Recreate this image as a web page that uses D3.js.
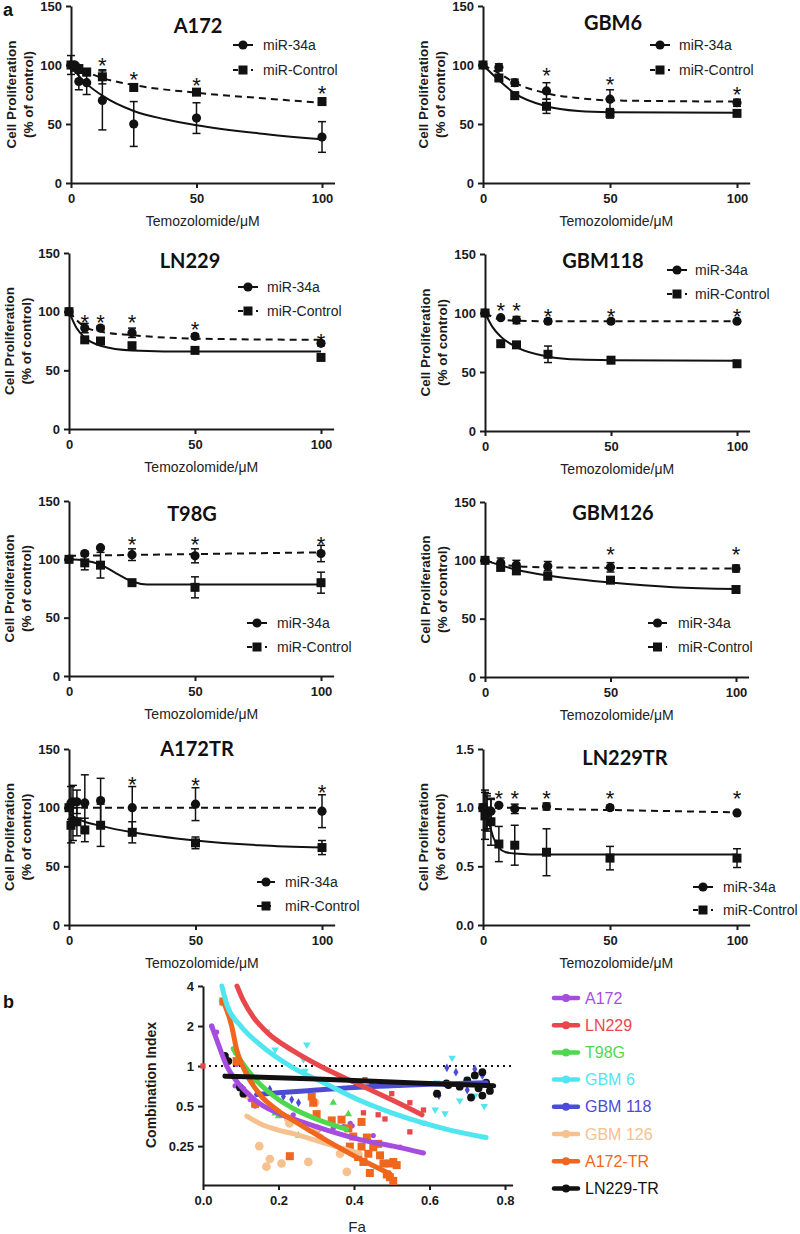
<!DOCTYPE html>
<html><head><meta charset="utf-8">
<script src="https://cdn.jsdelivr.net/npm/d3@7"></script>
<style>body{margin:0;background:#fff}</style>
</head><body>
<svg id="c" width="800" height="1234"></svg>
<script>
// ---------- Panel a data: [concentration, value, sem] ----------
const xTicks = [0, 50, 100];
const pctTicks = [0, 50, 100, 150];
const fracTicks = [0, 0.5, 1.0, 1.5];

const A172_circle = [[0,100,8],[1.56,100,0],[3.125,86,7],[6.25,85,10],[12.5,70,25],[25,50,19],[50,55,13],[100,39,13]];
const A172_square = [[0,100,0],[1.56,98,0],[3.125,97,0],[6.25,94,3],[12.5,90,6],[25,81,3],[50,77,2],[100,69,3]];
const A172_circleFit = [[0,100],[3,91],[6.25,84],[12.5,74],[25,61],[37.5,54],[50,49],[75,42],[100,37]];
const A172_squareFit = [[0,100],[6.25,94],[12.5,89],[25,83],[50,76.5],[75,72],[100,68]];
const A172_stars = [[12.5,104],[25,92],[50,87],[100,80]];

const GBM6_circle = [[0,100,0],[6.25,98,3],[12.5,85,3],[25,78,7],[50,71,8],[100,68,3]];
const GBM6_square = [[0,100,0],[6.25,89,2],[12.5,74,3],[25,65,6],[50,59,4],[100,59,2]];
const GBM6_circleFit = [[0,100],[6.25,93],[12.5,85],[25,76],[37.5,72],[50,70],[100,69]];
const GBM6_squareFit = [[0,100],[6.25,87],[12.5,76],[25,65],[37.5,61],[50,60],[100,59.5]];
const GBM6_stars = [[25,95],[50,88],[100,79]];

const LN229_circle = [[0,100,0],[6.25,86,4],[12.5,86,2],[25,82,4],[50,79,2],[100,73,2]];
const LN229_square = [[0,100,0],[6.25,76,2],[12.5,75,2],[25,71,2],[50,67,2],[100,61,2]];
const LN229_circleFit = [[0,100],[6.25,87],[12.5,83],[25,80],[50,77],[100,76]];
const LN229_squareFit = [[0,100],[3,86],[6.25,78],[12.5,71],[25,67],[50,66],[100,66]];
const LN229_stars = [[6.25,95],[12.5,95],[25,95],[50,89],[100,79]];

const GBM118_circle = [[0,100,0],[6.25,96,1],[12.5,94,3],[25,93,2],[50,93,1],[100,93,1]];
const GBM118_square = [[0,100,0],[6.25,74,2],[12.5,73,2],[25,65,7],[50,60,2],[100,57,2]];
const GBM118_circleFit = [[0,100],[6.25,94.5],[12.5,93.5],[25,93],[100,93]];
const GBM118_squareFit = [[0,100],[3,88],[6.25,80],[12.5,71],[25,63],[37.5,60.5],[50,60],[100,59.5]];
const GBM118_stars = [[6.25,106],[12.5,106],[25,101],[50,101],[100,101]];

const T98G_circle = [[0,100,0],[6.25,105,1],[12.5,110,1],[25,104,5],[50,103,6],[100,105,7]];
const T98G_square = [[0,100,0],[6.25,97,6],[12.5,95,11],[25,80,1],[50,76,9],[100,80,9]];
const T98G_circleFit = [[0,103],[50,104.5],[100,106]];
const T98G_squareFit = [[0,100],[6.25,99],[12.5,95.5],[18.75,88],[25,81],[31,78.5],[50,78.5],[100,78.5]];
const T98G_stars = [[25,117],[50,117],[100,117]];

const GBM126_circle = [[0,100,0],[6.25,98,4],[12.5,96,4],[25,95,4],[50,94,4],[100,93,3]];
const GBM126_square = [[0,100,0],[6.25,94,3],[12.5,91,3],[25,86.5,3],[50,83,2],[100,75,1]];
const GBM126_circleFit = [[0,100],[6.25,96.5],[12.5,95],[25,94],[50,93.5],[100,93]];
const GBM126_squareFit = [[0,100],[12.5,92],[25,87],[50,81],[75,77],[100,75.5]];
const GBM126_stars = [[50,109],[100,109]];

const A172TR_circle = [[0,100,0],[0.78,104,14],[1.56,105,14],[3.125,105,10],[6.25,104,24],[12.5,106,19],[25,100,18],[50,103,14],[100,97,14]];
const A172TR_square = [[0,100,0],[0.78,85,15],[1.56,88,16],[3.125,88,12],[6.25,81,10],[12.5,85,18],[25,79,9],[50,70,5],[100,66,6]];
const A172TR_circleFit = [[0,100],[100,100]];
const A172TR_squareFit = [[0,95],[3,91],[6.25,88],[12.5,84.5],[25,79],[50,72],[75,68],[100,66]];
const A172TR_stars = [[25,124],[50,123],[100,117]];

const LN229TR_circle = [[0,1.0,0],[0.78,0.98,0.17],[1.56,0.95,0.15],[3.125,0.97,0.1],[6.25,1.02,0.01],[12.5,0.99,0.04],[25,1.01,0.03],[50,1.0,0.02],[100,0.955,0.01]];
const LN229TR_square = [[0,1.0,0],[0.78,0.93,0.2],[1.56,0.97,0.15],[3.125,0.88,0.2],[6.25,0.69,0.15],[12.5,0.68,0.17],[25,0.62,0.2],[50,0.57,0.1],[100,0.57,0.08]];
const LN229TR_circleFit = [[0,1.0],[6.25,1.0],[25,0.99],[50,0.98],[100,0.96]];
const LN229TR_squareFit = [[0,1.0],[2,0.9],[4,0.75],[6.25,0.66],[9,0.62],[12.5,0.61],[25,0.6],[100,0.6]];
const LN229TR_stars = [[6.25,1.12],[12.5,1.12],[25,1.12],[50,1.12],[100,1.12]];

const legendLabels = ["miR-34a", "miR-Control"];

// ---------- Panel b data: [Fa, CI] ----------
const bNames = ["A172","LN229","T98G","GBM 6","GBM 118","GBM 126","A172-TR","LN229-TR"];
const bColors = ["#a54ddf","#e8474b","#4fd84f","#4fe6ef","#4b4bd6","#f6c18f","#f0661c","#111111"];
const bYTicks = [0.25, 0.5, 1, 2, 4];
const bXTicks = [0, 0.2, 0.4, 0.6, 0.8];

const b_A172_curve = [[0.023,2.0],[0.041,1.45],[0.063,1.0],[0.089,0.77],[0.125,0.6],[0.151,0.52],[0.2,0.44],[0.239,0.4],[0.328,0.33],[0.416,0.28],[0.504,0.25],[0.584,0.222]];
const b_LN229_curve = [[0.09,4.0],[0.107,3.1],[0.135,2.3],[0.169,1.8],[0.239,1.3],[0.31,1.0],[0.416,0.72],[0.504,0.55],[0.58,0.43]];
const b_T98G_curve = [[0.08,1.35],[0.1,1.1],[0.125,0.88],[0.151,0.73],[0.2,0.56],[0.239,0.48],[0.3,0.4],[0.38,0.335]];
const b_GBM6_curve = [[0.05,4.0],[0.063,2.9],[0.1,2.0],[0.151,1.45],[0.239,0.97],[0.328,0.73],[0.416,0.55],[0.504,0.44],[0.654,0.33],[0.75,0.29]];
const b_GBM118_curve = [[0.142,0.61],[0.2,0.63],[0.3,0.66],[0.4,0.69],[0.5,0.71],[0.6,0.73],[0.75,0.75]];
const b_GBM126_curve = [[0.116,0.42],[0.15,0.37],[0.2,0.33],[0.239,0.31],[0.328,0.26],[0.416,0.22]];
const b_A172TR_curve = [[0.054,3.06],[0.076,2.0],[0.09,1.3],[0.107,0.97],[0.151,0.61],[0.2,0.46],[0.239,0.39],[0.328,0.275],[0.416,0.2],[0.495,0.155]];
const b_LN229TR_curve = [[0.058,0.84],[0.3,0.8],[0.5,0.76],[0.654,0.73],[0.77,0.71]];

const b_A172_pts = [[0.023,2.0],[0.036,1.8],[0.089,1.03],[0.085,0.71],[0.107,0.68],[0.125,0.56],[0.138,0.5],[0.239,0.43],[0.293,0.41],[0.3,0.34],[0.305,0.33],[0.345,0.34],[0.372,0.35],[0.39,0.37],[0.395,0.355],[0.451,0.3],[0.522,0.246],[0.588,0.37]];
const b_LN229_pts = [[0.0,1.0],[0.429,0.79],[0.447,0.76],[0.425,0.445],[0.464,0.43],[0.482,0.4],[0.5,0.62],[0.548,0.53],[0.548,0.32],[0.584,0.467]];
const b_T98G_pts = [[0.089,1.26],[0.132,0.78],[0.136,0.77],[0.191,0.44],[0.2,0.42],[0.253,0.3],[0.345,0.53],[0.385,0.435]];
const b_GBM6_pts = [[0.05,3.0],[0.169,1.82],[0.191,1.33],[0.275,1.45],[0.266,1.12],[0.27,0.92],[0.619,0.75],[0.615,0.47],[0.641,0.44],[0.68,0.55],[0.7,0.8],[0.72,0.6],[0.745,0.5],[0.66,1.15]];
const b_GBM118_pts = [[0.177,0.67],[0.213,0.59],[0.235,0.56],[0.253,0.53],[0.646,0.97],[0.615,0.62],[0.625,0.6],[0.67,0.9],[0.7,0.66],[0.72,0.95],[0.74,0.85]];
const b_GBM126_pts = [[0.116,0.61],[0.297,0.53],[0.226,0.4],[0.229,0.37],[0.149,0.25],[0.177,0.2],[0.168,0.175],[0.208,0.185],[0.279,0.19],[0.363,0.219],[0.381,0.16],[0.301,0.34],[0.31,0.29]];
const b_A172TR_pts = [[0.054,3.06],[0.089,1.09],[0.138,0.52],[0.288,0.59],[0.292,0.53],[0.301,0.435],[0.341,0.39],[0.367,0.395],[0.23,0.21],[0.385,0.34],[0.398,0.295],[0.42,0.38],[0.389,0.248],[0.42,0.248],[0.411,0.207],[0.425,0.19],[0.434,0.29],[0.442,0.157],[0.438,0.219],[0.451,0.245],[0.464,0.26],[0.469,0.213],[0.478,0.185],[0.495,0.185],[0.504,0.19],[0.513,0.18],[0.495,0.146],[0.504,0.137],[0.487,0.153]];
const b_LN229TR_pts = [[0.058,1.19],[0.067,1.09],[0.098,0.69],[0.107,0.62],[0.645,0.74],[0.65,0.72],[0.62,0.62],[0.68,0.7],[0.7,0.78],[0.72,0.85],[0.73,0.68],[0.74,0.9],[0.75,0.75],[0.76,0.65],[0.74,0.6],[0.71,0.58]];

// ---------- drawing ----------
const svg = d3.select('#c');
const AX = '#1b1b1b';
const SANS = '"Liberation Sans", Arial, sans-serif';

function styleAxis(a) {
  a.select('.domain').attr('stroke', AX).attr('stroke-width', 2);
  a.selectAll('.tick line').attr('stroke', AX).attr('stroke-width', 2);
  a.selectAll('.tick text').attr('fill', AX).style('font-family', SANS).style('font-weight', 'bold').style('font-size', '13px');
}

function panel(c) {
  const g = svg.append('g');
  const x = d3.scaleLinear().domain([0, 105]).range([c.ax, c.ax + (c.ax100 - c.ax) * 1.05]);
  const y = d3.scaleLinear().domain([0, c.ymax]).range([c.y0, c.ytop]);
  const xa = g.append('g').attr('transform', `translate(0,${c.y0})`)
    .call(d3.axisBottom(x).tickValues(xTicks).tickSize(5).tickSizeOuter(0).tickPadding(6));
  const ya = g.append('g').attr('transform', `translate(${c.ax},0)`)
    .call(d3.axisLeft(y).tickValues(c.yticks).tickFormat(c.yfmt).tickSize(5).tickSizeOuter(0).tickPadding(4));
  styleAxis(xa); styleAxis(ya);

  g.append('text').attr('x', (c.ax + c.ax + (c.ax100 - c.ax) * 1.05) / 2).attr('y', c.y0 + 43)
    .attr('text-anchor', 'middle').style('font', `14px ${SANS}`).attr('fill', '#222').text('Temozolomide/μM');
  const yl = g.append('g').attr('transform', `translate(${c.ax - 55},${(c.y0 + c.ytop) / 2}) rotate(-90)`);
  yl.append('text').attr('x', 0).attr('y', 0).attr('text-anchor', 'middle')
    .style('font', `bold 13.5px ${SANS}`).attr('fill', AX).text('Cell Proliferation');
  yl.append('text').attr('x', 0).attr('y', 17).attr('text-anchor', 'middle')
    .style('font', `bold 13.5px ${SANS}`).attr('fill', AX).text('(% of control)');

  g.append('text').attr('x', c.tx).attr('y', c.ty).attr('text-anchor', 'middle')
    .style('font', 'bold 20px Lato, "Open Sans", sans-serif').attr('fill', '#111').text(c.title);

  const line = d3.line().x(d => x(d[0])).y(d => y(d[1])).curve(d3.curveMonotoneX);
  const fits = [[c.circleFit, c.circleSolid], [c.squareFit, !c.circleSolid]];
  fits.forEach(([f, solid]) => {
    g.append('path').attr('d', line(f)).attr('fill', 'none').attr('stroke', '#111').attr('stroke-width', 2)
      .attr('stroke-dasharray', solid ? null : '7,5');
  });

  function errs(data) {
    data.filter(d => d[2] > 0).forEach(d => {
      const xx = x(d[0]), y1 = y(d[1] - d[2]), y2 = y(d[1] + d[2]);
      g.append('line').attr('x1', xx).attr('x2', xx).attr('y1', y1).attr('y2', y2).attr('stroke', '#111').attr('stroke-width', 1.5);
      [y1, y2].forEach(yy => g.append('line').attr('x1', xx - 4).attr('x2', xx + 4).attr('y1', yy).attr('y2', yy).attr('stroke', '#111').attr('stroke-width', 1.5));
    });
  }
  errs(c.circle); errs(c.square);
  g.selectAll(null).data(c.square).enter().append('rect')
    .attr('x', d => x(d[0]) - 4.5).attr('y', d => y(d[1]) - 4.5).attr('width', 9).attr('height', 9).attr('fill', '#111');
  g.selectAll(null).data(c.circle).enter().append('circle')
    .attr('cx', d => x(d[0])).attr('cy', d => y(d[1])).attr('r', 4.6).attr('fill', '#111');

  g.selectAll(null).data(c.stars).enter().append('text')
    .attr('x', d => x(d[0])).attr('y', d => y(d[1]) + 12.5).attr('text-anchor', 'middle')
    .style('font', `22px ${SANS}`).attr('fill', '#111').text('*');

  legendLabels.forEach((lab, i) => {
    const ly = c.ly[i];
    g.append('line').attr('x1', c.lx[0]).attr('x2', c.lx[1]).attr('y1', ly).attr('y2', ly)
      .attr('stroke', '#111').attr('stroke-width', 2).attr('stroke-dasharray', i === 0 ? null : '5,4');
    const mx = (c.lx[0] + c.lx[1]) / 2;
    if (i === 0) g.append('circle').attr('cx', mx).attr('cy', ly).attr('r', 4.6).attr('fill', '#111');
    else g.append('rect').attr('x', mx - 4.5).attr('y', ly - 4.5).attr('width', 9).attr('height', 9).attr('fill', '#111');
    g.append('text').attr('x', c.lx[2]).attr('y', ly + 5).style('font', `14px ${SANS}`).attr('fill', '#222').text(lab);
  });
}

const pctFmt = d3.format('d'), fracFmt = d3.format('.1f');
const panels = [
  {title:'A172', ax:71, ax100:322, y0:183, ytop:6, ymax:150, yticks:pctTicks, yfmt:pctFmt, tx:198, ty:33,
   circle:A172_circle, square:A172_square, circleFit:A172_circleFit, squareFit:A172_squareFit, stars:A172_stars, circleSolid:true,
   lx:[233,253,263], ly:[45,70]},
  {title:'GBM6', ax:483, ax100:737, y0:183, ytop:6, ymax:150, yticks:pctTicks, yfmt:pctFmt, tx:613, ty:30,
   circle:GBM6_circle, square:GBM6_square, circleFit:GBM6_circleFit, squareFit:GBM6_squareFit, stars:GBM6_stars, circleSolid:false,
   lx:[650,670,679], ly:[45,70]},
  {title:'LN229', ax:69, ax100:321, y0:429, ytop:253, ymax:150, yticks:pctTicks, yfmt:pctFmt, tx:190, ty:268,
   circle:LN229_circle, square:LN229_square, circleFit:LN229_circleFit, squareFit:LN229_squareFit, stars:LN229_stars, circleSolid:false,
   lx:[238,258,267], ly:[287,311]},
  {title:'GBM118', ax:485, ax100:737, y0:431, ytop:254, ymax:150, yticks:pctTicks, yfmt:pctFmt, tx:603, ty:268,
   circle:GBM118_circle, square:GBM118_square, circleFit:GBM118_circleFit, squareFit:GBM118_squareFit, stars:GBM118_stars, circleSolid:false,
   lx:[667,687,695], ly:[270,294]},
  {title:'T98G', ax:69, ax100:321, y0:676, ytop:501, ymax:150, yticks:pctTicks, yfmt:pctFmt, tx:192, ty:521,
   circle:T98G_circle, square:T98G_square, circleFit:T98G_circleFit, squareFit:T98G_squareFit, stars:T98G_stars, circleSolid:false,
   lx:[247,267,277], ly:[623,647]},
  {title:'GBM126', ax:485, ax100:736, y0:677, ytop:502, ymax:150, yticks:pctTicks, yfmt:pctFmt, tx:613, ty:520,
   circle:GBM126_circle, square:GBM126_square, circleFit:GBM126_circleFit, squareFit:GBM126_squareFit, stars:GBM126_stars, circleSolid:false,
   lx:[648,667,678], ly:[623,647]},
  {title:'A172TR', ax:69, ax100:322, y0:925, ytop:749, ymax:150, yticks:pctTicks, yfmt:pctFmt, tx:197, ty:756,
   circle:A172TR_circle, square:A172TR_square, circleFit:A172TR_circleFit, squareFit:A172TR_squareFit, stars:A172TR_stars, circleSolid:false,
   lx:[257,275,285], ly:[882,906]},
  {title:'LN229TR', ax:483, ax100:737, y0:925, ytop:749, ymax:1.5, yticks:fracTicks, yfmt:fracFmt, tx:625, ty:765,
   circle:LN229TR_circle, square:LN229TR_square, circleFit:LN229TR_circleFit, squareFit:LN229TR_squareFit, stars:LN229TR_stars, circleSolid:false,
   lx:[693,713,723], ly:[887,910]}
];
panels.forEach(panel);

svg.append('text').attr('x', 3).attr('y', 16).style('font', `bold 18px ${SANS}`).attr('fill', '#111').text('a');
svg.append('text').attr('x', 3).attr('y', 1008).style('font', `bold 18px ${SANS}`).attr('fill', '#111').text('b');

// ---------- panel b ----------
(function () {
  const g = svg.append('g');
  const x = d3.scaleLinear().domain([0, 0.82]).range([203, 203 + 0.82 * 377.5]);
  const y = d3.scaleLog().base(2).domain([0.1275, 4]).range([1185, 986]);
  const xa = g.append('g').attr('transform', 'translate(0,1185)')
    .call(d3.axisBottom(x).tickValues(bXTicks).tickFormat(d3.format('.1f')).tickSize(5).tickSizeOuter(0).tickPadding(6));
  const ya = g.append('g').attr('transform', 'translate(203,0)')
    .call(d3.axisLeft(y).tickValues(bYTicks).tickFormat(d => String(d)).tickSize(5).tickSizeOuter(0).tickPadding(4));
  styleAxis(xa); styleAxis(ya);
  g.append('text').attr('x', 357).attr('y', 1232).attr('text-anchor', 'middle').style('font', `15px ${SANS}`).attr('fill', '#222').text('Fa');
  g.append('text').attr('transform', 'translate(156,1085) rotate(-90)').attr('text-anchor', 'middle')
    .style('font', `bold 14px ${SANS}`).attr('fill', AX).text('Combination Index');

  g.append('line').attr('x1', 203).attr('x2', x(0.82)).attr('y1', y(1)).attr('y2', y(1))
    .attr('stroke', '#111').attr('stroke-width', 2).attr('stroke-dasharray', '2,4');

  const curves = [b_A172_curve, b_LN229_curve, b_T98G_curve, b_GBM6_curve, b_GBM118_curve, b_GBM126_curve, b_A172TR_curve, b_LN229TR_curve];
  const pts = [b_A172_pts, b_LN229_pts, b_T98G_pts, b_GBM6_pts, b_GBM118_pts, b_GBM126_pts, b_A172TR_pts, b_LN229TR_pts];
  const shapes = [
    [d3.symbolCircle, 22], [d3.symbolSquare, 28], [d3.symbolTriangle, 24], [d3.symbolTriangle, 24],
    [d3.symbolDiamond, 22], [d3.symbolCircle, 60], [d3.symbolSquare, 64], [d3.symbolCircle, 48]
  ];
  const line = d3.line().x(d => x(d[0])).y(d => y(d[1])).curve(d3.curveMonotoneX);

  pts.forEach((p, i) => {
    const sym = d3.symbol().type(shapes[i][0]).size(shapes[i][1]);
    g.selectAll(null).data(p).enter().append('path').attr('d', sym)
      .attr('transform', d => `translate(${x(d[0])},${y(d[1])})${i === 3 ? ' rotate(180)' : ''}`)
      .attr('fill', bColors[i]);
  });
  const order = [5, 4, 0, 2, 6, 3, 1, 7];
  order.forEach(i => {
    g.append('path').attr('d', line(curves[i])).attr('fill', 'none').attr('stroke', bColors[i])
      .attr('stroke-width', 5).attr('stroke-linecap', 'round');
  });

  bNames.forEach((n, i) => {
    const ly = 998 + i * 27.2;
    g.append('line').attr('x1', 554).attr('x2', 578).attr('y1', ly).attr('y2', ly)
      .attr('stroke', bColors[i]).attr('stroke-width', 4.5).attr('stroke-linecap', 'round');
    g.append('circle').attr('cx', 566).attr('cy', ly).attr('r', 4).attr('fill', bColors[i]);
    g.append('text').attr('x', 585).attr('y', ly + 5.5).style('font', `16px ${SANS}`).attr('fill', bColors[i]).text(n);
  });
})();
</script>
</body></html>
